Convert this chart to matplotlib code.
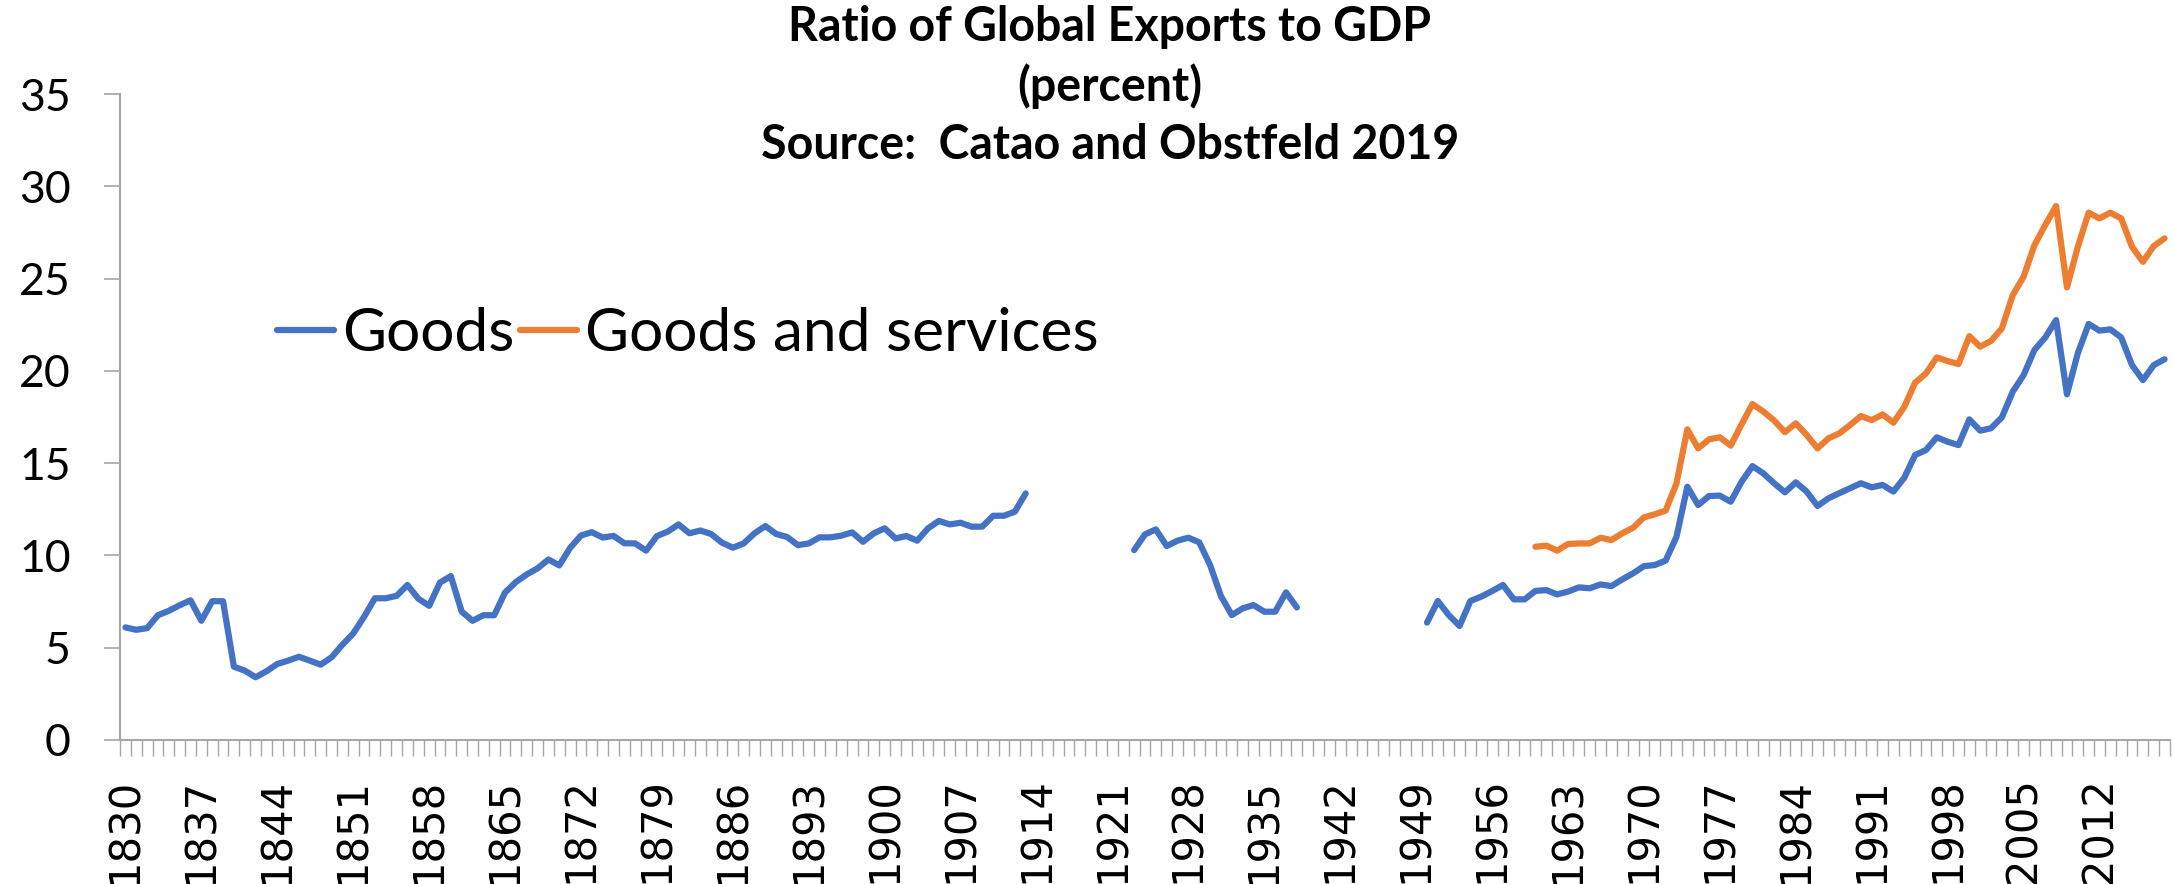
import numpy as np
import matplotlib
matplotlib.use("Agg")
import matplotlib.pyplot as plt

# ---------------- data ----------------
years = list(range(1830, 2019))

goods_1830_1913 = [6.10, 5.97, 6.06, 6.76, 7.00, 7.30, 7.57, 6.46, 7.52, 7.52,
                   3.97, 3.76, 3.40, 3.72, 4.12, 4.30, 4.51, 4.30, 4.08, 4.48,
                   5.16, 5.77, 6.67, 7.68, 7.68, 7.81, 8.40, 7.66, 7.27, 8.53,
                   8.88, 6.96, 6.46, 6.76, 6.76, 7.99, 8.56, 8.97, 9.30, 9.78,
                   9.46, 10.41, 11.08, 11.26, 10.97, 11.06, 10.66, 10.65, 10.26, 11.05,
                   11.29, 11.68, 11.20, 11.35, 11.16, 10.69, 10.42, 10.65, 11.20, 11.59,
                   11.16, 11.00, 10.56, 10.65, 10.98, 10.98, 11.07, 11.25, 10.74, 11.20,
                   11.47, 10.92, 11.05, 10.80, 11.47, 11.87, 11.68, 11.77, 11.56, 11.56,
                   12.15, 12.15, 12.37, 13.36]
goods_1923_1938 = [10.29, 11.14, 11.41, 10.51, 10.80, 10.96, 10.71, 9.48,
                   7.80, 6.77, 7.13, 7.31, 6.95, 6.95, 8.00, 7.18]
goods_1950_2018 = [6.36, 7.53, 6.77, 6.18, 7.53, 7.77, 8.07, 8.40, 7.62, 7.62,
                   8.08, 8.12, 7.89, 8.04, 8.27, 8.22, 8.43, 8.34, 8.70, 9.03,
                   9.42, 9.48, 9.72, 11.01,
                   13.72, 12.73, 13.22, 13.24, 12.91, 13.99, 14.84, 14.45, 13.91, 13.42,
                   13.96, 13.46, 12.68, 13.09, 13.37, 13.64, 13.91, 13.69, 13.82, 13.46,
                   14.21, 15.44, 15.71, 16.40, 16.16, 15.98, 17.37, 16.76, 16.89, 17.48,
                   18.87, 19.77, 21.13, 21.81, 22.75, 18.73, 20.95, 22.54, 22.18, 22.25,
                   21.81, 20.31, 19.50, 20.31, 20.63]
goods_services_1960_2018 = [10.47, 10.53, 10.26, 10.62, 10.65, 10.65, 10.96, 10.83, 11.20, 11.50,
                            12.06, 12.23, 12.43, 13.90,
                            16.83, 15.80, 16.29, 16.40, 15.95, 17.10, 18.20, 17.80, 17.31, 16.68,
                            17.16, 16.53, 15.80, 16.34, 16.61, 17.06, 17.55, 17.33, 17.64, 17.19,
                            18.05, 19.36, 19.86, 20.73, 20.53, 20.37, 21.88, 21.31, 21.62, 22.30,
                            24.10, 25.10, 26.81, 27.90, 28.93, 24.52, 26.72, 28.57, 28.26, 28.57,
                            28.26, 26.72, 25.91, 26.76, 27.18]

series_names = ["Goods", "Goods and services"]
title_text = "Ratio of Global Exports to GDP\n(percent)\nSource:  Catao and Obstfeld 2019"
y_ticks = [0, 5, 10, 15, 20, 25, 30, 35]

# assemble full series with gaps
goods = np.full(len(years), np.nan)
gs = np.full(len(years), np.nan)
goods[0:len(goods_1830_1913)] = goods_1830_1913
goods[years.index(1923):years.index(1923) + len(goods_1923_1938)] = goods_1923_1938
goods[years.index(1950):years.index(1950) + len(goods_1950_2018)] = goods_1950_2018
gs[years.index(1960):years.index(1960) + len(goods_services_1960_2018)] = goods_services_1960_2018

# ---------------- figure ----------------
W, H = 2174, 884
fig = plt.figure(figsize=(W / 100, H / 100), dpi=100)
ax = fig.add_axes([120 / W, 1 - 740 / H, (2170 - 120) / W, (740 - 94) / H])

x = np.arange(len(years))
BLUE = "#4472C4"
ORANGE = "#ED7D31"
GRAY = "#A6A6A6"
ax.plot(x, goods, color=BLUE, lw=4.5, solid_joinstyle="round", solid_capstyle="round", label=series_names[0])
ax.plot(x, gs, color=ORANGE, lw=4.5, solid_joinstyle="round", solid_capstyle="round", label=series_names[1])

ax.set_xlim(-0.5, len(years) - 0.5)
ax.set_ylim(0, 35)

for s in ["top", "right"]:
    ax.spines[s].set_visible(False)
for s in ["left", "bottom"]:
    ax.spines[s].set_color(GRAY)
    ax.spines[s].set_linewidth(1.5)

# y axis
ax.set_yticks(y_ticks)
ax.set_yticklabels([str(v) for v in y_ticks], fontfamily="Lato", fontsize=32)
ax.tick_params(axis="y", direction="out", length=11.5, width=1.2, color=GRAY, pad=24)

# x axis: category labels every 7 years, tick marks at every category boundary
lab_idx = list(range(0, len(years), 7))
ax.set_xticks(lab_idx)
ax.set_xticklabels([str(years[i]) for i in lab_idx], rotation=90, fontfamily="DejaVu Sans", fontsize=30)
ax.set_xticks(np.arange(-0.5, len(years), 1), minor=True)
ax.tick_params(axis="x", which="major", length=0, pad=27)
ax.tick_params(axis="x", which="minor", direction="out", length=11.5, width=1.0, color=GRAY)

# title
fig.text(1110 / W, 1 - 5 / H, title_text, ha="center", va="top", fontfamily="Lato",
         fontweight="bold", fontsize=33.5, linespacing=1.38)

# legend
ax.legend(loc="center left", bbox_to_anchor=(277 / W, 1 - 334 / H), bbox_transform=fig.transFigure,
          ncol=2, frameon=False, prop={"family": "Lato", "size": 43.5},
          handlelength=0.95, handletextpad=0.12, columnspacing=0.1, borderpad=0, borderaxespad=0)

fig.savefig("out.png", dpi=100)
